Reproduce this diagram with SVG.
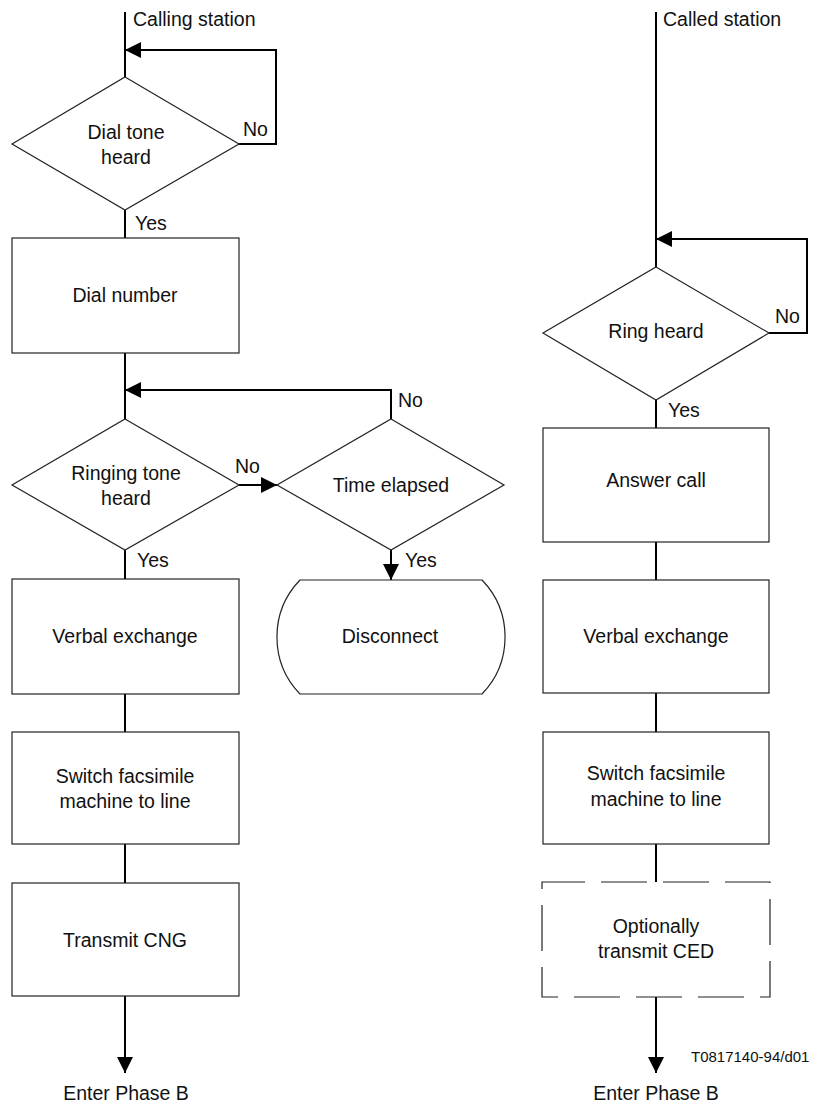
<svg xmlns="http://www.w3.org/2000/svg" width="817" height="1104" viewBox="0 0 817 1104">
<defs>
<style>
.s{fill:#fff;stroke:#222;stroke-width:1.2}
.d{fill:#fff;stroke:#222;stroke-width:1.2;stroke-dasharray:46 16;stroke-dashoffset:3}
.c{fill:none;stroke:#000;stroke-width:2}
.t{font-family:"Liberation Sans",Arial,sans-serif;font-size:19.5px;fill:#111}
.m{text-anchor:middle}
.f{font-size:15px}
</style>
<marker id="ah" viewBox="0 0 16 16" refX="16" refY="8" markerWidth="16" markerHeight="16" markerUnits="userSpaceOnUse" orient="auto">
<path d="M0,0 L16,8 L0,16 Z" fill="#000"/>
</marker>
</defs>
<rect width="817" height="1104" fill="#fff"/>
<g id="connectors">
<!-- left column -->
<line class="c" x1="125" y1="12" x2="125" y2="77"/>
<polyline class="c" points="239,144 276,144 276,50 125,50" marker-end="url(#ah)"/>
<line class="c" x1="125" y1="210" x2="125" y2="238"/>
<line class="c" x1="125" y1="353" x2="125" y2="419"/>
<polyline class="c" points="391,419 391,390 125,390" marker-end="url(#ah)"/>
<line class="c" x1="239" y1="485" x2="277" y2="485" marker-end="url(#ah)"/>
<line class="c" x1="391" y1="550" x2="391" y2="580" marker-end="url(#ah)"/>
<line class="c" x1="125" y1="550" x2="125" y2="579"/>
<line class="c" x1="125" y1="694" x2="125" y2="732"/>
<line class="c" x1="125" y1="844" x2="125" y2="883"/>
<line class="c" x1="125" y1="996" x2="125" y2="1073" marker-end="url(#ah)"/>
<!-- right column -->
<line class="c" x1="656" y1="12" x2="656" y2="267"/>
<polyline class="c" points="769,333 807,333 807,239 656,239" marker-end="url(#ah)"/>
<line class="c" x1="656" y1="400" x2="656" y2="428"/>
<line class="c" x1="656" y1="542" x2="656" y2="580"/>
<line class="c" x1="656" y1="693" x2="656" y2="732"/>
<line class="c" x1="656" y1="844" x2="656" y2="882"/>
<line class="c" x1="656" y1="997" x2="656" y2="1073" marker-end="url(#ah)"/>
</g>
<g id="labels">
<text class="t" x="133" y="26">Calling station</text>
<text class="t" x="663" y="26">Called station</text>
<text class="t" x="243" y="136">No</text>
<text class="t" x="135" y="230">Yes</text>
<text class="t" x="398" y="407">No</text>
<text class="t" x="235" y="473">No</text>
<text class="t" x="137" y="567">Yes</text>
<text class="t" x="405" y="567">Yes</text>
<text class="t" x="775" y="323">No</text>
<text class="t" x="668" y="417">Yes</text>
<text class="t m" x="126" y="1100">Enter Phase B</text>
<text class="t m" x="656" y="1100">Enter Phase B</text>
<text class="t f" x="691" y="1062">T0817140-94/d01</text>
</g>
<g id="dial-tone">
<polygon class="s" points="125,77 239,144 125,210 12,144"/>
<text class="t m" x="126" y="139">Dial tone</text>
<text class="t m" x="126" y="164">heard</text>
</g>
<g id="dial-number">
<rect class="s" x="12" y="238" width="227" height="115"/>
<text class="t m" x="125" y="302">Dial number</text>
</g>
<g id="ringing-tone">
<polygon class="s" points="125,419 239,485 125,550 12,485"/>
<text class="t m" x="126" y="480">Ringing tone</text>
<text class="t m" x="126" y="505">heard</text>
</g>
<g id="time-elapsed">
<polygon class="s" points="391,419 504,485 391,550 277,485"/>
<text class="t m" x="391" y="492">Time elapsed</text>
</g>
<g id="disconnect">
<path class="s" d="M300,580 L482,580 A82,82 0 0 1 482,694 L300,694 A82,82 0 0 1 300,580 Z"/>
<text class="t m" x="390" y="643">Disconnect</text>
</g>
<g id="verbal-exchange-left">
<rect class="s" x="12" y="579" width="227" height="115"/>
<text class="t m" x="125" y="643">Verbal exchange</text>
</g>
<g id="switch-left">
<rect class="s" x="12" y="732" width="227" height="112"/>
<text class="t m" x="125" y="783">Switch facsimile</text>
<text class="t m" x="125" y="808">machine to line</text>
</g>
<g id="transmit-cng">
<rect class="s" x="12" y="883" width="227" height="113"/>
<text class="t m" x="125" y="947">Transmit CNG</text>
</g>
<g id="ring-heard">
<polygon class="s" points="656,267 769,333 656,400 543,333"/>
<text class="t m" x="656" y="338">Ring heard</text>
</g>
<g id="answer-call">
<rect class="s" x="543" y="428" width="226" height="114"/>
<text class="t m" x="656" y="487">Answer call</text>
</g>
<g id="verbal-exchange-right">
<rect class="s" x="543" y="580" width="226" height="113"/>
<text class="t m" x="656" y="643">Verbal exchange</text>
</g>
<g id="switch-right">
<rect class="s" x="543" y="732" width="226" height="112"/>
<text class="t m" x="656" y="780">Switch facsimile</text>
<text class="t m" x="656" y="806">machine to line</text>
</g>
<g id="optional-ced">
<path class="d" d="M542,882 L770,882 L770,997 L542,997 Z"/>
<text class="t m" x="656" y="933">Optionally</text>
<text class="t m" x="656" y="958">transmit CED</text>
</g>
</svg>
